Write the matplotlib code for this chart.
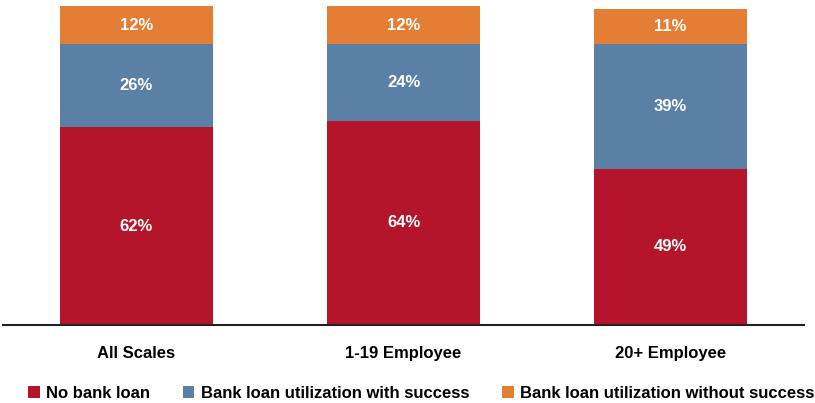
import matplotlib
matplotlib.use("Agg")
import matplotlib.pyplot as plt
import numpy as np

categories = ["All Scales", "1-19 Employee", "20+ Employee"]
no_loan = [62, 64, 49]
loan_success = [26, 24, 39]
loan_no_success = [12, 12, 11]
series_names = ["No bank loan", "Bank loan utilization with success",
                "Bank loan utilization without success"]
colors = ["#B5152B", "#5B80A6", "#E57E35"]

plt.rcParams["font.family"] = ["Liberation Sans", "DejaVu Sans"]

fig = plt.figure(figsize=(8.15, 4.03), dpi=100)
ax = fig.add_axes([3 / 815, 78 / 403, 801 / 815, 319 / 403])

x = np.arange(len(categories))
width = 0.573
bottom = np.zeros(len(categories))
handles = []
for vals, name, col in zip([no_loan, loan_success, loan_no_success], series_names, colors):
    vals = np.array(vals, dtype=float)
    b = ax.bar(x, vals, width, bottom=bottom, color=col, label=name, edgecolor="none")
    handles.append(b)
    for xi, v, bt in zip(x, vals, bottom):
        ax.text(xi, bt + v / 2, f"{int(v)}%", ha="center", va="center",
                color="white", fontsize=12, fontweight="bold")
    bottom += vals

ax.set_xlim(-0.5, 2.5)
ax.set_ylim(0, 100)
ax.set_yticks([])
ax.set_xticks(x)
ax.set_xticklabels(categories, fontsize=12, fontweight="bold")
ax.tick_params(axis="x", length=0, pad=15)
for s in ["top", "right", "left"]:
    ax.spines[s].set_visible(False)
ax.spines["bottom"].set_linewidth(1.5)
ax.spines["bottom"].set_color("#222222")

fig.legend(handles=handles, labels=series_names, loc="center", ncol=3,
           bbox_to_anchor=(0.517, 10 / 403), frameon=False,
           prop={"size": 12, "weight": "bold"},
           handlelength=0.7, handleheight=0.7, handletextpad=0.4, columnspacing=1.95)

fig.savefig("out.png", dpi=100)
